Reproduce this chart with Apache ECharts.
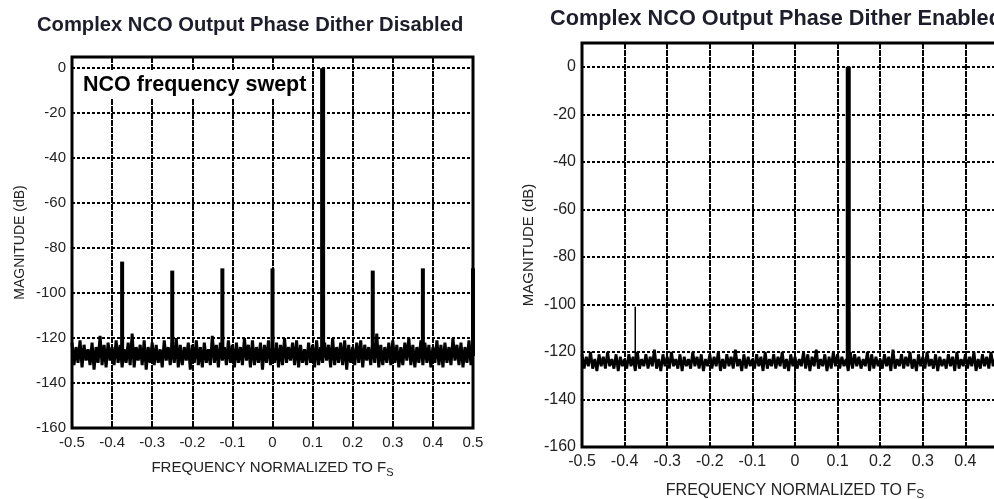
<!DOCTYPE html>
<html>
<head>
<meta charset="utf-8">
<style>html,body{margin:0;padding:0;background:#fff;}#c{width:994px;height:499px;}</style>
<script src="https://cdn.jsdelivr.net/npm/echarts@6/dist/echarts.min.js"></script>
</head>
<body>
<div id="c"></div>
<script>
// ---- data ----
const titles = ['Complex NCO Output Phase Dither Disabled', 'Complex NCO Output Phase Dither Enabled'];
const annotation = 'NCO frequency swept';
const xTicks = [-0.5, -0.4, -0.3, -0.2, -0.1, 0, 0.1, 0.2, 0.3, 0.4, 0.5];
const yTicks = [-160, -140, -120, -100, -80, -60, -40, -20, 0];
const binStart = -0.5, binStep = 0.005; // FFT bin grid of the noise arrays

// noise floor, dither disabled (dB per bin)
const noiseLeft = [
-122,-132,-124,-131,-121,-133,-123,-130,-125,-132,-122,-134,-124,-131,-119,-132,-123,-133,-122,-130,
-124,-132,-121,-131,-123,-133,-125,-131,-122,-132,-118,-133,-124,-130,-123,-132,-121,-134,-124,-131,
-122,-132,-123,-131,-125,-133,-121,-130,-124,-132,-122,-131,-120,-133,-123,-132,-124,-130,-122,-134,
-123,-131,-121,-132,-124,-133,-122,-131,-125,-132,-119,-131,-123,-133,-122,-130,-124,-132,-121,-131,
-123,-133,-122,-131,-124,-132,-120,-130,-123,-133,-121,-132,-124,-131,-122,-134,-123,-131,-121,-132,
-124,-131,-122,-133,-123,-132,-120,-131,-124,-130,-122,-132,-121,-133,-123,-131,-125,-132,-122,-131,
-123,-133,-121,-132,-124,-131,-122,-130,-123,-133,-120,-132,-124,-131,-122,-132,-121,-134,-123,-131,
-124,-132,-122,-131,-121,-133,-123,-130,-124,-132,-122,-131,-118,-133,-123,-132,-124,-131,-122,-132,
-121,-131,-123,-133,-124,-132,-122,-130,-120,-132,-123,-133,-124,-131,-121,-132,-122,-131,-123,-133,
-124,-131,-121,-132,-123,-133,-122,-131,-124,-132,-120,-130,-123,-132,-122,-133,-124,-131,-121,-132,
-123
];
// noise floor, dither enabled (dB per bin)
const noiseRight = [
-121,-127,-122,-126,-120,-127,-123,-128,-121,-126,-122,-127,-120,-126,-123,-127,-121,-128,-122,-126,
-123,-127,-121,-126,-122,-128,-120,-127,-123,-126,-121,-127,-122,-126,-119,-127,-123,-128,-121,-126,
-122,-127,-120,-126,-123,-127,-121,-128,-122,-126,-123,-127,-120,-126,-122,-127,-121,-128,-123,-126,
-121,-127,-122,-126,-120,-128,-123,-127,-121,-126,-122,-127,-119,-126,-123,-128,-121,-127,-122,-126,
-123,-127,-121,-126,-122,-128,-120,-127,-123,-126,-121,-127,-122,-126,-120,-127,-123,-128,-121,-126,
-122,-127,-123,-126,-120,-127,-121,-128,-122,-126,-119,-127,-123,-126,-121,-128,-122,-127,-120,-126,
-121,-127,-122,-126,-123,-128,-120,-127,-121,-126,-122,-127,-123,-126,-120,-128,-121,-127,-122,-126,
-123,-127,-121,-126,-122,-128,-119,-127,-123,-126,-121,-127,-122,-126,-120,-127,-123,-128,-121,-126,
-122,-127,-120,-126,-123,-127,-121,-128,-122,-126,-123,-127,-121,-126,-122,-128,-120,-127,-123,-126,
-121,-127,-122,-126,-120,-128,-123,-127,-121,-126,-122,-127,-120,-126,-123,-128,-121,-127,-122,-126,
-121
];
// spurs (frequency, peak dB) — narrow lines rising from / dipping below the floor
const spurFreqLeft = [-0.375, -0.25, -0.125, 0, 0.25, 0.375, 0.5];
const spurMagLeft  = [-86, -90, -89, -89, -90, -89, -89];
const spurBaseLeft = -128;
const spurFreqRight = [-0.375, 0];
const spurMagRight  = [-101, -135];
const spurBaseRight = -124;
// fundamental tone
const toneFreq = 0.125;
const toneMag = 0;

// ---- chart ----
const FONT = 'Liberation Sans, Arial, sans-serif';
const chart = echarts.init(document.getElementById('c'), null, {renderer: 'canvas'});

function noiseData(arr) { return arr.map((v, i) => [binStart + i * binStep, v]); }
function spurSeries(freqs, mags, base, gi, width) {
  return freqs.map((f, k) => ({
    type: 'line', xAxisIndex: gi, yAxisIndex: gi, symbol: 'none', silent: true,
    data: [[f, base], [f, mags[k]]],
    lineStyle: {color: '#000', width: width}, z: 4, animation: false
  }));
}
function xAxisCfg(gi, fs, gap) {
  return {
    type: 'value', gridIndex: gi, min: -0.5, max: 0.5, interval: 0.1,
    axisLine: {show: false}, axisTick: {show: false},
    axisLabel: {color: '#222', fontSize: fs, fontFamily: FONT, margin: 7,
      formatter: v => String(Math.round(v * 10) / 10)},
    splitLine: {show: true, lineStyle: {color: '#000', width: 2, type: [6, 1]}},
    name: 'FREQUENCY NORMALIZED TO F{s|S}', nameLocation: 'middle', nameGap: gap,
    nameTextStyle: {color: '#222', fontSize: fs, fontFamily: FONT,
      rich: {s: {fontSize: Math.round(fs * 0.72), fontFamily: FONT, color: '#222', padding: [9, 0, 0, 0]}}}
  };
}
function yAxisCfg(gi, max, fs, gap) {
  return {
    type: 'value', gridIndex: gi, min: -160, max: max, interval: 20,
    axisLine: {show: false}, axisTick: {show: false},
    axisLabel: {color: '#222', fontSize: fs, fontFamily: FONT, margin: 6,
      formatter: v => (yTicks.indexOf(v) >= 0 ? String(v) : '')},
    splitLine: {show: true, lineStyle: {color: '#000', width: 2, type: [3, 2]}},
    name: 'MAGNITUDE (dB)', nameLocation: 'middle', nameGap: gap, nameRotate: 90,
    nameTextStyle: {color: '#222', fontSize: fs - 1, fontFamily: FONT}
  };
}

const option = {
  backgroundColor: '#fff',
  animation: false,
  title: [
    {text: titles[0], left: 37, top: 15, padding: 0, textStyle: {fontSize: 20.2, fontWeight: 'bold', color: '#1d1d2b', fontFamily: FONT}},
    {text: titles[1], left: 550, top: 8, padding: 0, textStyle: {fontSize: 21.7, fontWeight: 'bold', color: '#1d1d2b', fontFamily: FONT}},
    {text: annotation, left: 79, top: 71, padding: [3, 4, 3, 4], backgroundColor: '#fff', z: 10,
      textStyle: {fontSize: 21.5, fontWeight: 'bold', color: '#000', fontFamily: FONT}}
  ],
  grid: [
    {left: 72, top: 57, right: 521, bottom: 71, show: true, borderColor: '#000', borderWidth: 3,
      backgroundColor: 'transparent', outerBoundsMode: 'none'},
    {left: 582, top: 43, right: -14, bottom: 52, show: true, borderColor: '#000', borderWidth: 3,
      backgroundColor: 'transparent', outerBoundsMode: 'none'}
  ],
  xAxis: [xAxisCfg(0, 15, 30), xAxisCfg(1, 16, 33)],
  yAxis: [yAxisCfg(0, 5, 15, 45), yAxisCfg(1, 10, 16, 46)],
  series: [
    {type: 'line', xAxisIndex: 0, yAxisIndex: 0, symbol: 'none', silent: true, data: noiseData(noiseLeft),
      lineStyle: {color: '#000', width: 3}, z: 3},
    {type: 'line', xAxisIndex: 1, yAxisIndex: 1, symbol: 'none', silent: true, data: noiseData(noiseRight),
      lineStyle: {color: '#000', width: 2.8}, z: 3},
    ...spurSeries(spurFreqLeft, spurMagLeft, spurBaseLeft, 0, 4),
    ...spurSeries(spurFreqRight, spurMagRight, spurBaseRight, 1, 1.5),
    ...spurSeries([toneFreq], [toneMag], spurBaseLeft, 0, 5),
    ...spurSeries([toneFreq], [toneMag], spurBaseRight, 1, 5)
  ]
};
chart.setOption(option);
</script>
</body>
</html>
